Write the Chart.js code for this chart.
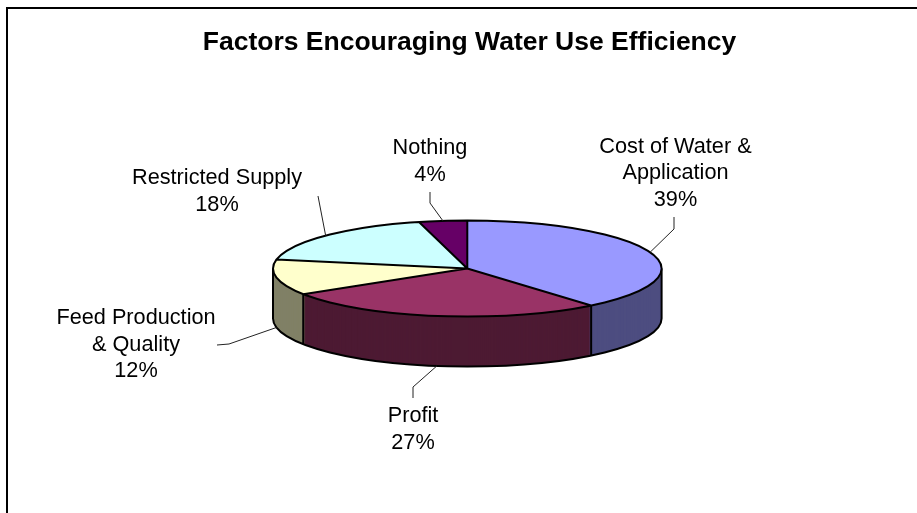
<!DOCTYPE html>
<html><head><meta charset="utf-8">
<style>html,body{margin:0;padding:0;background:#fff;overflow:hidden}canvas{display:block}</style>
<script src="https://cdn.jsdelivr.net/npm/chart.js@4/dist/chart.umd.min.js"></script>
</head><body>
<canvas id="c" width="917" height="513"></canvas>
<script>
const categories = ['Cost of Water & Application','Profit','Feed Production & Quality','Restricted Supply','Nothing'];
const shares = [39,27,12,18,4];
const topColors = ['#9999FF','#993366','#FFFFCC','#CCFFFF','#660066'];
const sideColors = ['#4D4D80','#4D1A33','#808066','#668080','#330033'];
const labelLines = [['Cost of Water &','Application','39%'],['Profit','27%'],['Feed Production','& Quality','12%'],['Restricted Supply','18%'],['Nothing','4%']];
const FONT = '"Liberation Sans", Arial, sans-serif';
const CX = 467.3, CY = 268.5, KY = 0.247, DEPTH = 50;

function project(el, angle, dy){
  return [CX + el.outerRadius*Math.cos(angle), CY + el.outerRadius*KY*Math.sin(angle) + (dy||0)];
}
function applyFlat(ctx, el, dy){
  ctx.translate(CX, CY + dy);
  ctx.scale(1, KY);
  ctx.translate(-el.x, -el.y);
}
const labelPlaces = [
  {x:675.5, y:152.5, lh:26.5, leader:[[674,229],[674,217]], dy:0},
  {x:413,   y:422,   lh:27,   leader:[[413,387],[413,398]], dy:DEPTH},
  {x:136,   y:324,   lh:26.5, leader:[[229,344],[217,345]], dy:DEPTH},
  {x:217,   y:184,   lh:26.5, leader:[[318,196]], dy:0},
  {x:430,   y:154,   lh:27,   leader:[[430,203],[430,192]], dy:0}
];
const pie3d = {
  id:'pie3d',
  beforeDraw(chart){
    const ctx = chart.ctx;
    ctx.save();
    ctx.fillStyle = '#000';
    ctx.fillRect(6,7,911,2);
    ctx.fillRect(6,7,2,506);
    ctx.restore();
  },
  beforeDatasetsDraw(chart){
    const ctx = chart.ctx, arcs = chart.getDatasetMeta(0).data;
    const r = arcs[0].outerRadius;
    for(let d = DEPTH; d >= 1; d--){
      arcs.forEach((el,i)=>{
        const shim = Object.create(el);
        const o = Object.create(el.options);
        o.backgroundColor = sideColors[i];
        o.borderWidth = 0;
        shim.options = o;
        ctx.save();
        applyFlat(ctx, el, d);
        Chart.ArcElement.prototype.draw.call(shim, ctx);
        ctx.restore();
      });
    }
    ctx.save();
    ctx.strokeStyle = '#000';
    ctx.lineWidth = 2;
    ctx.beginPath();
    ctx.ellipse(CX, CY+DEPTH, r, r*KY, 0, 0, Math.PI);
    ctx.moveTo(CX+r, CY); ctx.lineTo(CX+r, CY+DEPTH);
    ctx.moveTo(CX-r, CY); ctx.lineTo(CX-r, CY+DEPTH);
    arcs.forEach(el=>{
      if(Math.sin(el.endAngle) > 0 ){
        const p = project(el, el.endAngle, 0);
        ctx.moveTo(p[0], p[1]); ctx.lineTo(p[0], p[1]+DEPTH);
      }
    });
    ctx.stroke();
    ctx.restore();
    ctx.save();
    applyFlat(ctx, arcs[0], 0);
  },
  afterDatasetsDraw(chart){
    const ctx = chart.ctx, arcs = chart.getDatasetMeta(0).data;
    ctx.restore();
    const r = arcs[0].outerRadius;
    ctx.save();
    ctx.strokeStyle = '#000';
    ctx.lineWidth = 2;
    ctx.beginPath();
    ctx.ellipse(CX, CY, r, r*KY, 0, 0, Math.PI*2);
    arcs.forEach(el=>{
      const p = project(el, el.startAngle, 0);
      ctx.moveTo(CX, CY); ctx.lineTo(p[0], p[1]);
    });
    ctx.stroke();
    ctx.lineWidth = 1;
    ctx.strokeStyle = '#222';
    arcs.forEach((el,i)=>{
      const place = labelPlaces[i];
      const p = project(el, (el.startAngle+el.endAngle)/2, place.dy);
      ctx.beginPath();
      ctx.moveTo(p[0], p[1]);
      place.leader.forEach(q=>ctx.lineTo(q[0], q[1]));
      ctx.stroke();
    });
    ctx.fillStyle = '#000';
    ctx.font = '21.7px ' + FONT;
    ctx.textAlign = 'center';
    ctx.textBaseline = 'alphabetic';
    labelLines.forEach((lines,i)=>{
      const place = labelPlaces[i];
      lines.forEach((t,j)=>ctx.fillText(t, place.x, place.y + j*place.lh));
    });
    ctx.restore();
  }
};
new Chart(document.getElementById('c'), {
  type:'pie',
  data:{labels:categories, datasets:[{data:shares, backgroundColor:topColors, borderWidth:0, radius:194.3, clip:false}]},
  options:{
    responsive:false, animation:false,
    layout:{padding:{left:22,right:0,top:0,bottom:0}},
    plugins:{
      legend:{display:false}, tooltip:{enabled:false},
      title:{display:true, text:'Factors Encouraging Water Use Efficiency', color:'#000',
        font:{family:FONT, size:26.5, weight:'bold'}, padding:{top:27,bottom:4}}
    }
  },
  plugins:[pie3d]
});
</script>
</body></html>
